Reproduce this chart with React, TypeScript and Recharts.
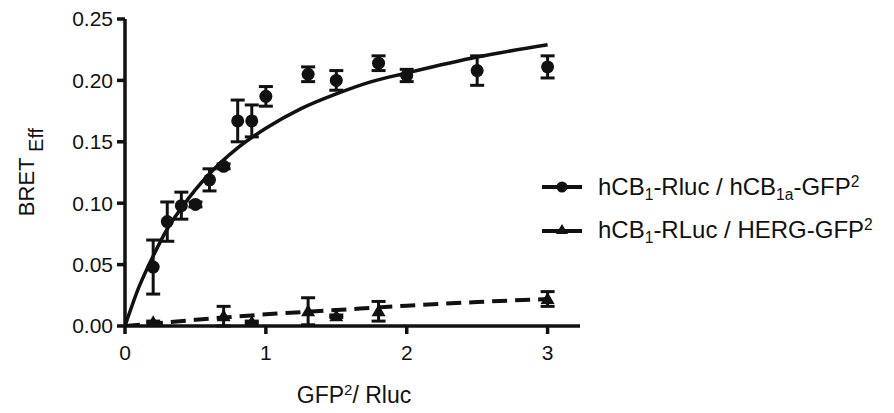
import React from "react";
import {
  ComposedChart,
  Line,
  Scatter,
  ErrorBar,
  XAxis,
  YAxis,
} from "recharts";

// hCB1-Rluc / hCB1a-GFP2 (circles)
const xCB1a = [0.2, 0.3, 0.4, 0.5, 0.6, 0.7, 0.8, 0.9, 1.0, 1.3, 1.5, 1.8, 2.0, 2.5, 3.0];
const yCB1a = [0.048, 0.085, 0.098, 0.099, 0.119, 0.13, 0.167, 0.167, 0.187, 0.205, 0.2, 0.214, 0.204, 0.208, 0.211];
const errCB1a = [0.022, 0.016, 0.011, 0.002, 0.009, 0.002, 0.017, 0.013, 0.008, 0.006, 0.008, 0.006, 0.005, 0.012, 0.009];

// hCB1-RLuc / HERG-GFP2 (triangles)
const xHERG = [0.2, 0.7, 0.9, 1.3, 1.5, 1.8, 3.0];
const yHERG = [0.003, 0.008, 0.003, 0.012, 0.008, 0.012, 0.022];
const errHERG = [0.001, 0.008, 0.001, 0.011, 0.001, 0.008, 0.006];

// fitted curves
const fitX = [0, 0.1, 0.2, 0.3, 0.4, 0.5, 0.6, 0.8, 1.0, 1.25, 1.5, 1.75, 2.0, 2.5, 3.0];
const fitCB1a = [0, 0.032, 0.057, 0.079, 0.096, 0.111, 0.124, 0.145, 0.161, 0.177, 0.189, 0.199, 0.206, 0.219, 0.229];
const fitHergX = [0, 0.5, 1.0, 1.5, 2.0, 2.5, 3.0];
const fitHERG = [0, 0.005, 0.0095, 0.013, 0.0165, 0.0195, 0.022];

const xTicks = [0, 1, 2, 3];
const yTicks = [0, 0.05, 0.1, 0.15, 0.2, 0.25];

const circleData = xCB1a.map((x, i) => ({ x, y: yCB1a[i], err: errCB1a[i] }));
const triangleData = xHERG.map((x, i) => ({ x, y: yHERG[i], err: errHERG[i] }));
const fitCircle = fitX.map((x, i) => ({ x, y: fitCB1a[i] }));
const fitTriangle = fitHergX.map((x, i) => ({ x, y: fitHERG[i] }));

const FONT = "'Liberation Sans', Arial, sans-serif";
const INK = "#111";

const Triangle = (props: any) => {
  const { cx, cy } = props;
  if (cx == null || cy == null) return null;
  return (
    <polygon
      points={`${cx},${cy - 7} ${cx - 7},${cy + 5} ${cx + 7},${cy + 5}`}
      fill={INK}
    />
  );
};

const Dot = (props: any) => {
  const { cx, cy } = props;
  if (cx == null || cy == null) return null;
  return <circle cx={cx} cy={cy} r={6.5} fill={INK} />;
};

const YLabel = () => (
  <text
    x={34}
    y={172}
    transform="rotate(-90 34 172)"
    textAnchor="middle"
    fontFamily={FONT}
    fontSize={22}
    fill={INK}
  >
    BRET
    <tspan fontSize={20} dy={9}> Eff</tspan>
  </text>
);

const XLabel = () => (
  <text x={354} y={403} textAnchor="middle" fontFamily={FONT} fontSize={23} fill={INK}>
    GFP<tspan fontSize={15} dy={-8}>2</tspan>
    <tspan dy={8}>/ Rluc</tspan>
  </text>
);

const sub = { fontSize: "0.65em", verticalAlign: "-0.3em", lineHeight: 0 };
const sup = { fontSize: "0.65em", verticalAlign: "0.5em", lineHeight: 0 };

const ChartLegend = () => (
  <div
    style={{
      position: "absolute",
      left: 540,
      top: 165,
      fontFamily: FONT,
      fontSize: 24,
      color: INK,
      whiteSpace: "nowrap",
    }}
  >
    <div style={{ display: "flex", alignItems: "center", height: 43 }}>
      <svg width={44} height={20}>
        <line x1={2} y1={10} x2={42} y2={10} stroke={INK} strokeWidth={4} />
        <circle cx={22} cy={10} r={5.5} fill={INK} />
      </svg>
      <span style={{ marginLeft: 14, lineHeight: 1 }}>
        hCB<span style={sub}>1</span>-Rluc / hCB<span style={sub}>1a</span>-GFP
        <span style={sup}>2</span>
      </span>
    </div>
    <div style={{ display: "flex", alignItems: "center", height: 43 }}>
      <svg width={44} height={20}>
        <line x1={2} y1={11} x2={42} y2={11} stroke={INK} strokeWidth={4} />
        <polygon points="22,4 16,14 28,14" fill={INK} />
      </svg>
      <span style={{ marginLeft: 14, lineHeight: 1 }}>
        hCB<span style={sub}>1</span>-RLuc / HERG-GFP<span style={sup}>2</span>
      </span>
    </div>
  </div>
);

export default function App() {
  return (
    <div style={{ position: "absolute", left: 0, top: 0, width: 894, height: 413, background: "#fff" }}>
      <ComposedChart width={894} height={413} margin={{ top: 19, right: 314, bottom: 0, left: 0 }}>
        <XAxis
          type="number"
          dataKey="x"
          domain={[0, 3.23]}
          ticks={xTicks}
          allowDataOverflow
          height={87}
          axisLine={{ stroke: INK, strokeWidth: 3.5 }}
          tickLine={{ stroke: INK, strokeWidth: 3.5 }}
          tickSize={8}
          tickMargin={11}
          tick={{ fill: INK, fontSize: 21, fontFamily: FONT }}
        />
        <YAxis
          type="number"
          dataKey="y"
          domain={[0, 0.25]}
          ticks={yTicks}
          allowDataOverflow
          width={125}
          axisLine={{ stroke: INK, strokeWidth: 3.5 }}
          tickLine={{ stroke: INK, strokeWidth: 3.5 }}
          tickSize={8}
          tickMargin={4}
          tickFormatter={(v: number) => v.toFixed(2)}
          tick={{ fill: INK, fontSize: 21, fontFamily: FONT }}
        />
        <Line
          data={fitCircle}
          dataKey="y"
          type="monotone"
          stroke={INK}
          strokeWidth={3.5}
          dot={false}
          activeDot={false}
          isAnimationActive={false}
        />
        <Line
          data={fitTriangle}
          dataKey="y"
          type="monotone"
          stroke={INK}
          strokeWidth={4}
          strokeDasharray="15 8"
          dot={false}
          activeDot={false}
          isAnimationActive={false}
        />
        <Scatter data={circleData} dataKey="y" shape={Dot} isAnimationActive={false}>
          <ErrorBar dataKey="err" direction="y" width={7} strokeWidth={3} stroke={INK} />
        </Scatter>
        <Scatter data={triangleData} dataKey="y" shape={Triangle} isAnimationActive={false}>
          <ErrorBar dataKey="err" direction="y" width={7} strokeWidth={3} stroke={INK} />
        </Scatter>
        <YLabel />
        <XLabel />
      </ComposedChart>
      <ChartLegend />
    </div>
  );
}
